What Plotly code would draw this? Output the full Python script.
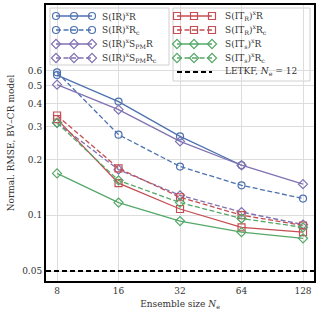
import plotly.graph_objects as go

ens_size = [8, 16, 32, 64, 128]

ir_r = [0.57, 0.41, 0.266, 0.186, None]
ir_rc = [0.59, 0.272, 0.183, 0.145, 0.123]
ir_spm_r = [0.506, 0.371, 0.25, 0.186, 0.147]
ir_spm_rc = [0.315, 0.176, 0.128, 0.104, 0.089]
itr_r = [0.33, 0.149, 0.108, 0.086, 0.081]
itr_rc = [0.345, 0.179, 0.125, 0.100, 0.088]
its_r = [0.168, 0.117, 0.093, 0.081, 0.075]
its_rc = [0.315, 0.154, 0.117, 0.096, 0.086]
letkf = 0.05

y_ticks = [0.05, 0.1, 0.2, 0.3, 0.4, 0.5, 0.6]

BLUE = '#4C72B0'
PURPLE = '#8172B2'
RED = '#C44E52'
GREEN = '#55A868'
FONT = 'DejaVu Serif'
TXT = '#333333'
DASH = '5px,2.5px'

series = [
    (ir_r, 'S(IR)<sup>x</sup>R', BLUE, 'solid', 'circle-open', 0),
    (ir_rc, 'S(IR)<sup>x</sup>R<sub>c</sub>', BLUE, DASH, 'circle-open', 0),
    (ir_spm_r, 'S(IR)<sup>x</sup>S<sub>PM</sub>R', PURPLE, 'solid', 'diamond-open', 0),
    (ir_spm_rc, 'S(IR)<sup>x</sup>S<sub>PM</sub>R<sub>c</sub>', PURPLE, DASH, 'diamond-open', 0),
    (itr_r, 'S(IT<sub>R</sub>)<sup>x</sup>R', RED, 'solid', 'square-open', 1),
    (itr_rc, 'S(IT<sub>R</sub>)<sup>x</sup>R<sub>c</sub>', RED, DASH, 'square-open', 1),
    (its_r, 'S(IT<sub>s</sub>)<sup>x</sup>R', GREEN, 'solid', 'diamond-open', 1),
    (its_rc, 'S(IT<sub>s</sub>)<sup>x</sup>R<sub>c</sub>', GREEN, DASH, 'diamond-open', 1),
]

fig = go.Figure()

for vals, name, color, dash, symbol, col in series:
    fig.add_trace(go.Scatter(
        x=ens_size, y=vals, name=name, mode='lines+markers', showlegend=False,
        line=dict(color=color, width=1.3, dash=dash),
        marker=dict(symbol=symbol, size=7, color=color, line=dict(width=1.2))))

fig.add_hline(y=letkf, line=dict(color='black', width=1.8, dash='5px,3px'))

# --- matplotlib-style legends (two boxes), laid out in plot-area pixels ---
W, H = 268, 276
boxes = [(4, 123, 3, 60), (127, 264, 3, 76)]
glyph_x = [[10, 28, 46], [131, 148, 166]]
text_x = [54, 177]
for x0, x1, y0, y1 in boxes:
    fig.add_shape(type='rect', xref='paper', yref='paper', layer='between',
                  x0=x0 / W, x1=x1 / W, y0=1 - y0 / H, y1=1 - y1 / H,
                  line=dict(color='#d0d0d0', width=1), fillcolor='rgba(255,255,255,0.9)')

rows = [0, 0]
entries = [(name, color, dash, symbol, col) for _, name, color, dash, symbol, col in series]
entries.append(('LETKF, <i>N</i><sub>e</sub> = 12', 'black', '5px,3px', None, 1))
for name, color, dash, symbol, col in entries:
    yy = 1 - (11 + 14 * rows[col]) / H
    gx = [g / W for g in glyph_x[col]]
    if symbol is None:
        fig.add_trace(go.Scatter(
            x=[gx[0], gx[-1]], y=[yy, yy], mode='lines', xaxis='x2', yaxis='y2',
            showlegend=False, hoverinfo='skip',
            line=dict(color=color, width=1.8, dash=dash)))
    else:
        fig.add_trace(go.Scatter(
            x=gx, y=[yy] * 3, mode='lines+markers', xaxis='x2', yaxis='y2',
            showlegend=False, hoverinfo='skip',
            line=dict(color=color, width=1.3, dash=dash),
            marker=dict(symbol=symbol, size=7, color=color, line=dict(width=1.2))))
    fig.add_annotation(text=name, xref='paper', yref='paper', x=text_x[col] / W, y=yy,
                       xanchor='left', yanchor='middle', showarrow=False,
                       font=dict(family=FONT, size=9, color=TXT))
    rows[col] += 1

axis_common = dict(
    showgrid=True, gridcolor='#dddddd', gridwidth=1,
    showline=True, linecolor='black', linewidth=2, mirror=True,
    ticks='', zeroline=False, automargin=False,
    tickfont=dict(family=FONT, size=9, color=TXT),
)

fig.update_xaxes(
    type='log', tickvals=ens_size, ticktext=[str(v) for v in ens_size],
    range=[0.849, 2.161],
    title=dict(text='Ensemble size <i>N</i><sub>e</sub>', font=dict(family=FONT, size=9, color=TXT), standoff=6),
    **axis_common)
fig.update_yaxes(
    type='log', tickvals=y_ticks, ticktext=[str(v) for v in y_ticks],
    range=[-1.355, 0.134],
    title=dict(text='Normal. RMSE, BV–CR model', font=dict(family=FONT, size=9, color=TXT), standoff=6),
    **axis_common)

fig.update_layout(
    width=320, height=320,
    margin=dict(l=46, r=6, t=5, b=39),
    plot_bgcolor='white', paper_bgcolor='white',
    showlegend=False,
    xaxis2=dict(overlaying='x', range=[0, 1], visible=False, fixedrange=True),
    yaxis2=dict(overlaying='y', range=[0, 1], visible=False, fixedrange=True),
)

# the page's default 8px body margin would shift the figure
fig.write_html("out.html", config={'displayModeBar': False},
               post_script="document.body.style.margin='0';")
